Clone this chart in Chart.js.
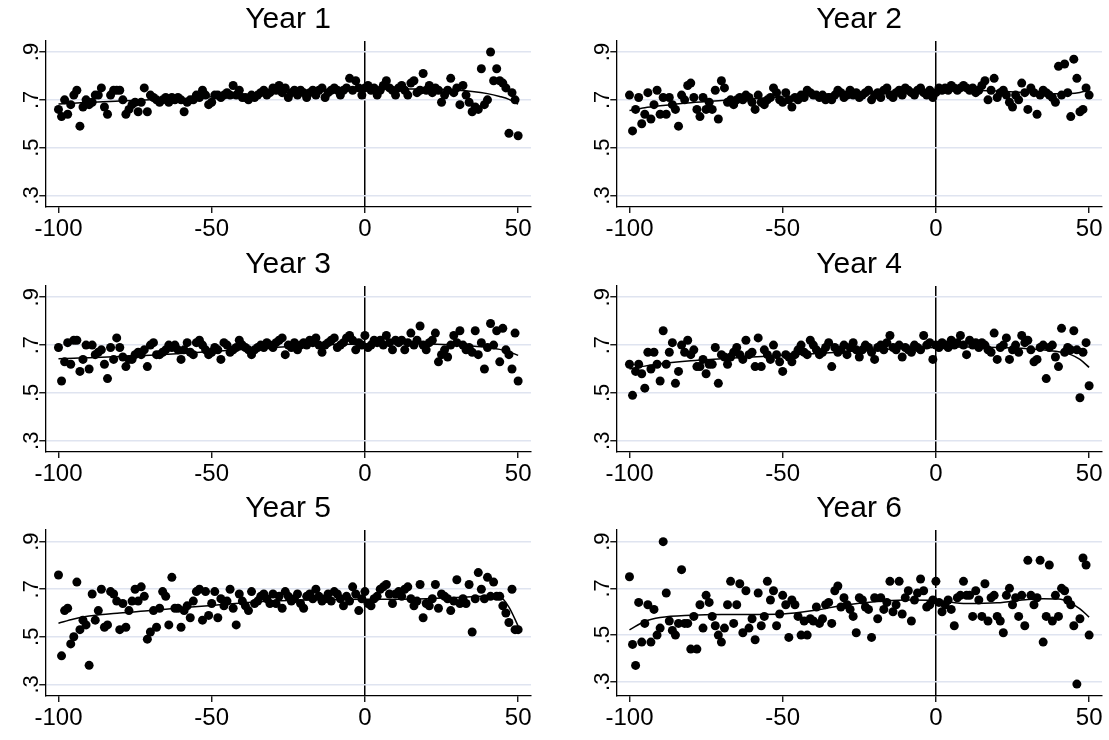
<!DOCTYPE html>
<html>
<head>
<meta charset="utf-8">
<script src="https://cdn.jsdelivr.net/npm/chart.js@4.4.0/dist/chart.umd.min.js"></script>
<style>
  html, body { margin: 0; padding: 0; background: #fff; overflow: hidden; }
  #wrap { position: relative; width: 1109px; height: 740px; background: #fff; }
  #wrap canvas { position: absolute; }
</style>
</head>
<body>
<div id="wrap"></div>
<script>
// running variable (bins) shared by all panels
const bins = [
  -100,-99,-98,-97,-96,-95,-94,-93,-92,-91,-90,-89,-88,-87,-86,-85,-84,-83,-82,-81,
  -80,-79,-78,-77,-76,-75,-74,-73,-72,-71,-70,-69,-68,-67,-66,-65,-64,-63,-62,-61,
  -60,-59,-58,-57,-56,-55,-54,-53,-52,-51,-50,-49,-48,-47,-46,-45,-44,-43,-42,-41,
  -40,-39,-38,-37,-36,-35,-34,-33,-32,-31,-30,-29,-28,-27,-26,-25,-24,-23,-22,-21,
  -20,-19,-18,-17,-16,-15,-14,-13,-12,-11,-10,-9,-8,-7,-6,-5,-4,-3,-2,-1,
  0,1,2,3,4,5,6,7,8,9,10,11,12,13,14,15,16,17,18,19,
  20,21,22,23,24,25,26,27,28,29,30,31,32,33,34,35,36,37,38,39,
  40,41,42,43,44,45,46,47,48,49,50
];

const titles = ['Year 1', 'Year 2', 'Year 3', 'Year 4', 'Year 5', 'Year 6'];

const xTicks = [-100, -50, 0, 50];
const xTickLabels = ['-100', '-50', '0', '50'];
const yTicks = [0.3, 0.5, 0.7, 0.9];
const yTickLabels = ['.3', '.5', '.7', '.9'];

// bin means, -100 .. 50
const year1 = [
  .66,.63,.70,.64,.68,.72,.74,.59,.67,.70,.68,.69,.72,.72,.75,.67,.64,.72,.74,.74,
  .74,.70,.64,.66,.68,.69,.65,.69,.75,.65,.72,.71,.70,.69,.70,.71,.69,.71,.70,.71,
  .70,.65,.69,.70,.70,.72,.71,.74,.72,.68,.69,.72,.72,.71,.72,.73,.72,.76,.72,.74,
  .71,.71,.70,.72,.71,.72,.73,.74,.72,.73,.75,.74,.76,.73,.75,.71,.73,.74,.72,.74,
  .73,.71,.73,.74,.72,.74,.75,.71,.73,.74,.75,.74,.72,.74,.75,.79,.74,.78,.75,.72,
  .75,.76,.74,.75,.72,.74,.76,.78,.75,.74,.72,.75,.76,.74,.72,.77,.78,.73,.74,.81,
  .74,.76,.73,.75,.74,.69,.72,.74,.79,.73,.75,.68,.76,.72,.69,.65,.67,.66,.83,.68,
  .70,.90,.78,.83,.78,.77,.75,.56,.73,.70,.55
];
const year2 = [
  .72,.57,.66,.71,.60,.64,.73,.62,.68,.74,.64,.71,.64,.71,.68,.66,.59,.72,.70,.76,
  .77,.71,.66,.63,.71,.66,.69,.66,.74,.62,.78,.75,.69,.70,.68,.70,.71,.70,.72,.71,
  .69,.66,.72,.69,.68,.70,.71,.75,.73,.70,.69,.73,.70,.67,.71,.70,.72,.71,.74,.73,
  .72,.72,.71,.72,.70,.71,.70,.72,.74,.73,.71,.72,.74,.72,.73,.71,.72,.73,.74,.70,
  .72,.73,.71,.74,.75,.72,.71,.73,.74,.72,.75,.74,.73,.72,.74,.75,.73,.72,.74,.71,
  .73,.75,.74,.75,.74,.76,.75,.74,.75,.76,.75,.74,.75,.73,.74,.76,.78,.70,.74,.79,
  .71,.73,.74,.72,.69,.67,.72,.70,.77,.73,.66,.75,.73,.64,.72,.74,.73,.72,.71,.69,
  .84,.72,.85,.73,.63,.87,.79,.65,.66,.75,.72
];
const year3 = [
  .69,.55,.63,.71,.62,.72,.72,.59,.64,.70,.60,.70,.66,.67,.68,.62,.56,.69,.64,.73,
  .69,.65,.61,.64,.64,.66,.67,.66,.68,.61,.70,.71,.66,.66,.67,.68,.70,.69,.70,.68,
  .64,.68,.71,.67,.66,.71,.72,.70,.68,.66,.67,.69,.68,.64,.71,.70,.67,.68,.69,.72,
  .70,.69,.68,.66,.68,.69,.70,.69,.71,.70,.69,.71,.72,.73,.66,.70,.69,.71,.68,.70,
  .71,.70,.72,.71,.73,.70,.67,.70,.71,.72,.73,.69,.70,.71,.73,.74,.72,.68,.71,.70,
  .74,.69,.70,.72,.71,.72,.70,.74,.71,.68,.72,.71,.72,.68,.71,.75,.70,.72,.78,.70,
  .68,.71,.72,.75,.63,.66,.68,.65,.70,.74,.71,.76,.70,.68,.69,.67,.76,.66,.71,.60,
  .69,.79,.70,.76,.63,.77,.68,.66,.60,.75,.55
];
const year4 = [
  .62,.49,.59,.62,.58,.52,.67,.60,.67,.62,.55,.76,.62,.67,.71,.54,.59,.70,.67,.72,
  .66,.68,.61,.61,.64,.58,.62,.62,.69,.54,.66,.65,.62,.65,.67,.69,.66,.64,.72,.66,
  .67,.61,.73,.61,.68,.66,.64,.70,.66,.63,.59,.66,.65,.63,.66,.68,.70,.67,.66,.72,
  .70,.68,.66,.67,.69,.71,.61,.69,.67,.68,.70,.66,.69,.71,.68,.65,.68,.70,.69,.67,
  .64,.69,.70,.68,.71,.74,.69,.68,.70,.65,.69,.68,.67,.70,.69,.68,.74,.70,.71,.64,
  .70,.69,.71,.70,.69,.72,.70,.71,.74,.70,.66,.72,.70,.71,.69,.71,.70,.68,.67,.75,
  .64,.69,.70,.73,.64,.68,.70,.67,.74,.71,.72,.68,.63,.64,.69,.70,.56,.69,.70,.65,
  .61,.77,.67,.69,.68,.76,.68,.48,.67,.71,.53
];
const year5 = [
  .76,.42,.61,.62,.47,.50,.73,.53,.57,.55,.38,.68,.57,.61,.70,.54,.55,.69,.68,.65,
  .53,.64,.54,.61,.65,.70,.65,.71,.67,.49,.52,.61,.54,.62,.69,.67,.55,.75,.62,.62,
  .54,.61,.63,.58,.65,.69,.70,.57,.69,.59,.64,.69,.58,.66,.63,.65,.70,.62,.55,.68,
  .65,.63,.61,.69,.64,.65,.67,.68,.66,.64,.68,.64,.67,.62,.69,.67,.65,.66,.68,.64,
  .62,.67,.68,.66,.70,.67,.65,.66,.68,.65,.69,.68,.66,.63,.67,.65,.71,.68,.61,.66,
  .69,.64,.63,.66,.67,.70,.71,.72,.68,.64,.68,.69,.67,.70,.71,.66,.63,.65,.72,.58,
  .64,.63,.66,.72,.62,.68,.67,.66,.61,.65,.74,.64,.66,.64,.72,.52,.66,.77,.70,.66,
  .75,.67,.73,.67,.67,.63,.60,.56,.70,.53,.53
];
const year6 = [
  .75,.46,.37,.64,.47,.55,.63,.47,.61,.50,.53,.90,.68,.56,.52,.50,.55,.78,.55,.55,
  .44,.58,.44,.63,.53,.67,.64,.58,.54,.50,.47,.53,.63,.73,.55,.63,.72,.51,.69,.53,
  .57,.48,.68,.54,.58,.73,.65,.69,.54,.59,.67,.63,.49,.65,.63,.58,.50,.56,.50,.57,
  .56,.62,.55,.57,.63,.64,.55,.69,.71,.62,.66,.63,.61,.58,.51,.66,.65,.62,.61,.49,
  .66,.57,.66,.61,.64,.73,.60,.63,.73,.59,.66,.69,.56,.65,.68,.74,.69,.62,.63,.65,
  .73,.64,.60,.63,.65,.61,.54,.66,.67,.73,.67,.67,.58,.69,.65,.58,.72,.56,.66,.67,
  .58,.56,.51,.67,.70,.63,.66,.58,.67,.54,.82,.67,.63,.66,.82,.47,.58,.80,.56,.67,
  .58,.70,.69,.65,.63,.54,.29,.57,.83,.80,.50
];

// smoothed fit, evaluated at these knots
const fitBins = [-100, -95, -90, -80, -70, -60, -50, -40, -30, -20, -10, 0, 10, 20, 30, 35, 40, 44, 47, 50];
const fit1 = [.683,.686,.690,.695,.700,.705,.713,.720,.728,.735,.740,.743,.745,.745,.740,.735,.726,.714,.702,.682];
const fit2 = [.655,.667,.675,.688,.697,.705,.712,.720,.728,.733,.737,.740,.740,.737,.730,.727,.725,.726,.731,.740];
const fit3 = [.643,.645,.647,.652,.658,.665,.673,.682,.690,.697,.702,.705,.707,.706,.700,.696,.690,.682,.672,.657];
const fit4 = [.600,.612,.622,.635,.643,.650,.657,.664,.672,.680,.686,.690,.692,.690,.685,.680,.672,.660,.640,.607];
const fit5 = [.557,.575,.587,.600,.610,.622,.632,.642,.650,.655,.657,.658,.658,.660,.665,.668,.672,.668,.625,.545];
const fit6 = [.522,.558,.575,.585,.588,.588,.590,.605,.628,.643,.650,.648,.635,.638,.652,.655,.654,.637,.612,.577];

const series = [year1, year2, year3, year4, year5, year6];
const fits = [fit1, fit2, fit3, fit4, fit5, fit6];
const yMin = [0.252, 0.252, 0.253, 0.253, 0.251, 0.239];
const yMax = [0.946, 0.946, 0.947, 0.947, 0.949, 0.950];

// panel placement
const colLeft = [0, 571];
const rowTop = [0, 245, 489];
const panelW = 538, panelH = 244;

Chart.defaults.font.family = "'Liberation Sans', Arial, sans-serif";
Chart.defaults.color = '#000';

const wrap = document.getElementById('wrap');

titles.forEach((title, p) => {
  const cv = document.createElement('canvas');
  cv.width = panelW;
  cv.height = panelH;
  cv.style.left = colLeft[p % 2] + 'px';
  cv.style.top = rowTop[Math.floor(p / 2)] + 'px';
  wrap.appendChild(cv);

  new Chart(cv, {
    type: 'scatter',
    data: {
      datasets: [
        {
          data: fitBins.map((x, i) => ({ x: x, y: fits[p][i] })),
          showLine: true,
          borderColor: '#000',
          borderWidth: 1.5,
          pointRadius: 0,
          cubicInterpolationMode: 'monotone',
          order: 0
        },
        {
          data: bins.map((x, i) => ({ x: x, y: series[p][i] })),
          backgroundColor: '#000',
          borderWidth: 0,
          pointRadius: 4.5,
          order: 1
        }
      ]
    },
    options: {
      responsive: false,
      animation: false,
      devicePixelRatio: 1,
      layout: { padding: { left: 0, right: 7, top: 0, bottom: 0 } },
      plugins: {
        legend: { display: false },
        tooltip: { enabled: false },
        title: {
          display: true,
          text: title,
          fullSize: false,
          color: '#000',
          font: { size: 30, weight: 'normal', lineHeight: 1 },
          padding: { top: 5, bottom: 6 }
        }
      },
      scales: {
        x: {
          type: 'linear',
          min: -104.3,
          max: 54.2,
          afterBuildTicks: s => { s.ticks = xTicks.map(v => ({ value: v })); },
          afterFit: s => { s.height = 37; },
          ticks: {
            autoSkip: false,
            maxRotation: 0,
            padding: 2,
            color: '#000',
            font: { size: 24 },
            callback: v => xTickLabels[xTicks.indexOf(v)]
          },
          grid: {
            color: c => (c.tick && c.tick.value === 0) ? '#000' : 'rgba(0,0,0,0)',
            lineWidth: 1.5,
            tickColor: '#000',
            tickWidth: 1.3,
            tickLength: 6
          },
          border: { color: '#000', width: 1.3 }
        },
        y: {
          type: 'linear',
          min: yMin[p],
          max: yMax[p],
          afterBuildTicks: s => { s.ticks = yTicks.map(v => ({ value: v })); },
          afterFit: s => { s.width = 45.3; },
          ticks: {
            autoSkip: false,
            minRotation: 90,
            maxRotation: 90,
            crossAlign: 'center',
            padding: -2,
            color: '#000',
            font: { size: 22 },
            callback: v => yTickLabels[yTicks.indexOf(v)]
          },
          grid: {
            color: '#dfe4f0',
            lineWidth: 1.5,
            tickColor: '#000',
            tickWidth: 1.3,
            tickLength: 6
          },
          border: { color: '#000', width: 1.3 }
        }
      }
    }
  });
});
</script>
</body>
</html>
